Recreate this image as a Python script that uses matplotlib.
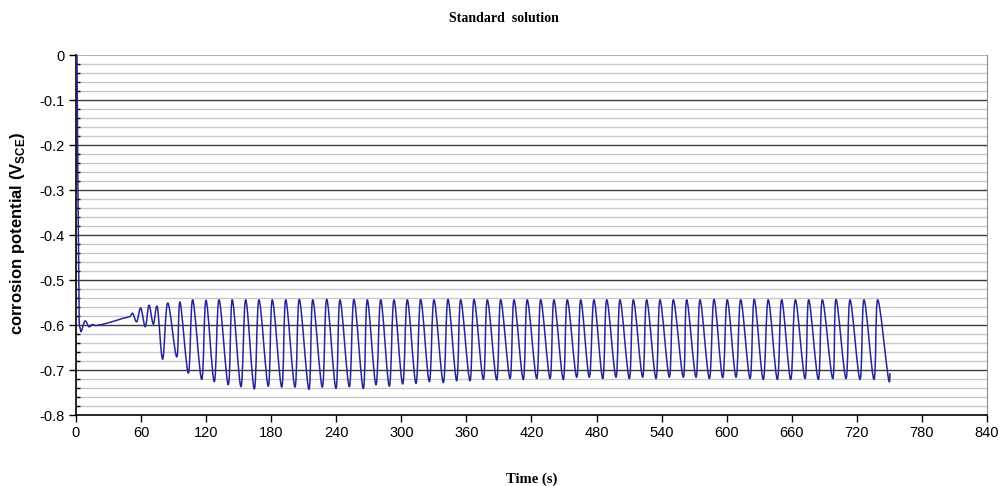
import matplotlib
matplotlib.use("Agg")
import matplotlib.pyplot as plt
from matplotlib.path import Path
from matplotlib.patches import PathPatch
import numpy as np

plt.rcParams['axes.unicode_minus'] = False
plt.rcParams['font.family'] = ['Liberation Sans', 'DejaVu Sans']

# Start-up transient (time s, potential V_SCE)
t_start = [0.0, 0.9, 1.8, 3.0, 4.6, 8.3, 12.0, 15.0, 19.0, 30.0, 43.6, 49.8]
v_start = [0.0, 0.0, -0.30, -0.60, -0.615, -0.591, -0.604, -0.599, -0.601, -0.595, -0.585, -0.581]

# Oscillation maxima
t_peak = [52.3, 59.7, 67.3, 75.0, 84.6, 95.9, 107.6,
          119.9, 131.9, 144.1, 156.5, 168.7, 181.0, 193.4, 205.9, 218.3, 231.2,
          243.4, 256.3, 268.6, 281.0, 293.2, 305.5, 317.8, 330.1, 343.0, 354.7,
          367.0, 379.3, 391.6, 403.9, 416.1, 428.5, 440.7, 453.0, 465.4, 477.6,
          489.4, 501.6, 513.9, 526.2, 538.5, 550.8, 563.1, 575.4, 588.3, 600.5,
          612.9, 625.4, 638.3, 650.7, 663.3, 675.6, 688.2, 700.8, 713.7, 726.6,
          739.2]
v_peak = [-0.574, -0.562, -0.556, -0.560, -0.551, -0.549, -0.544,
          -0.545, -0.544, -0.544, -0.544, -0.544, -0.544, -0.544, -0.543, -0.544, -0.543,
          -0.544, -0.543, -0.544, -0.544, -0.544, -0.544, -0.543, -0.544, -0.543, -0.544,
          -0.543, -0.544, -0.544, -0.544, -0.544, -0.544, -0.544, -0.544, -0.544, -0.544,
          -0.544, -0.544, -0.544, -0.544, -0.544, -0.544, -0.544, -0.544, -0.543, -0.544,
          -0.544, -0.543, -0.544, -0.544, -0.544, -0.544, -0.544, -0.543, -0.544, -0.544,
          -0.544]

# Oscillation minima
t_trough = [56.0, 63.9, 71.3, 79.9, 92.9, 103.6,
            115.9, 127.5, 140.4, 152.1, 164.4, 177.3, 189.7, 201.9, 214.8, 227.1,
            239.7, 252.0, 264.9, 276.6, 288.9, 301.2, 313.5, 325.8, 338.7, 351.0,
            363.3, 375.6, 387.9, 400.2, 412.4, 424.8, 437.1, 449.3, 461.7, 473.3,
            485.7, 497.9, 510.2, 522.5, 534.8, 547.1, 560.0, 571.7, 584.0, 596.3,
            608.6, 621.5, 633.7, 646.7, 659.0, 672.2, 684.5, 697.8, 710.0, 722.9,
            735.8]
v_trough = [-0.593, -0.604, -0.598, -0.676, -0.671, -0.707,
            -0.721, -0.726, -0.733, -0.737, -0.742, -0.736, -0.738, -0.738, -0.743, -0.738,
            -0.741, -0.737, -0.741, -0.733, -0.736, -0.731, -0.730, -0.726, -0.728, -0.724,
            -0.724, -0.721, -0.722, -0.719, -0.721, -0.719, -0.719, -0.721, -0.716, -0.716,
            -0.719, -0.716, -0.719, -0.716, -0.719, -0.716, -0.716, -0.716, -0.719, -0.717,
            -0.716, -0.719, -0.721, -0.721, -0.721, -0.719, -0.721, -0.719, -0.719, -0.721,
            -0.721]

# End of record
t_end = [748.9, 750.6]
v_end = [-0.716, -0.707]

x_ticks = list(range(0, 841, 60))
y_ticks = [0, -0.1, -0.2, -0.3, -0.4, -0.5, -0.6, -0.7, -0.8]
y_tick_labels = ['0', '-0.1', '-0.2', '-0.3', '-0.4', '-0.5', '-0.6', '-0.7', '-0.8']

# assemble the series in time order
t_all = np.array(t_start + t_peak + t_trough + t_end)
v_all = np.array(v_start + v_peak + v_trough + v_end)
order = np.argsort(t_all, kind='stable')
pts = np.column_stack([t_all[order], v_all[order]])

fig = plt.figure(figsize=(10.03, 4.86), dpi=100)
ax = fig.add_axes([76/1003, 1-415/486, (987-76)/1003, (415-55)/486])

ax.set_xlim(0, 840)
ax.set_ylim(-0.8, 0)

# gridlines
for y in np.arange(-0.78, 0.0, 0.02):
    if abs(round(y * 10) - y * 10) > 1e-6:
        ax.axhline(y, color='#c8c8c8', lw=1.0, zorder=1)
for y in y_ticks[1:-1]:
    ax.axhline(y, color='#3a3a3a', lw=1.0, zorder=1.5)
ax.axhline(0, color='#a0a0a0', lw=1.2, zorder=1.5)

# smoothed line (straight for the initial spike, smoothed spline afterwards)
n = len(pts)
k = 4
verts = [pts[0]]
codes = [Path.MOVETO]
for i in range(1, k + 1):
    verts.append(pts[i])
    codes.append(Path.LINETO)
for i in range(k, n - 1):
    p_prev = pts[i - 1]
    p0 = pts[i]
    p1 = pts[i + 1]
    p_next = pts[i + 2] if i + 2 < n else pts[i + 1]
    c1 = p0 + (p1 - p_prev) / 6.0
    c2 = p1 - (p_next - p0) / 6.0
    verts += [c1, c2, p1]
    codes += [Path.CURVE4] * 3
patch = PathPatch(Path(verts, codes), facecolor='none', edgecolor='#25259a',
                  lw=1.1, zorder=3, joinstyle='round')
ax.add_patch(patch)

ax.set_xticks(x_ticks)
ax.set_xticklabels([str(v) for v in x_ticks])
ax.set_yticks(y_ticks)
ax.set_yticklabels(y_tick_labels)
ax.set_yticks(np.arange(-0.8, 0.001, 0.02), minor=True)
ax.tick_params(axis='both', which='major', direction='out', length=5,
               width=1, color='black', labelsize=10.5, pad=3)
ax.tick_params(axis='y', which='minor', direction='in', length=3, width=1, color='black')

for s in ['left', 'bottom']:
    ax.spines[s].set_color('black')
    ax.spines[s].set_linewidth(1.2)
ax.spines['right'].set_color('#909090')
ax.spines['top'].set_visible(False)

fig.text(0.502, 1-18/486, 'Standard  solution', ha='center', va='center',
         family='Liberation Serif', fontweight='bold', fontsize=10)
fig.text((76+987)/2/1003, 1-479/486, 'Time (s)', ha='center', va='center',
         family='Liberation Serif', fontweight='bold', fontsize=10.5)
fig.text(18/1003, 1-233/486, r'corrosion potential (V$_{\mathregular{SCE}}$)',
         rotation=90, ha='center', va='center', fontweight='bold', fontsize=12)

fig.savefig('out.png', dpi=100, facecolor='white')
